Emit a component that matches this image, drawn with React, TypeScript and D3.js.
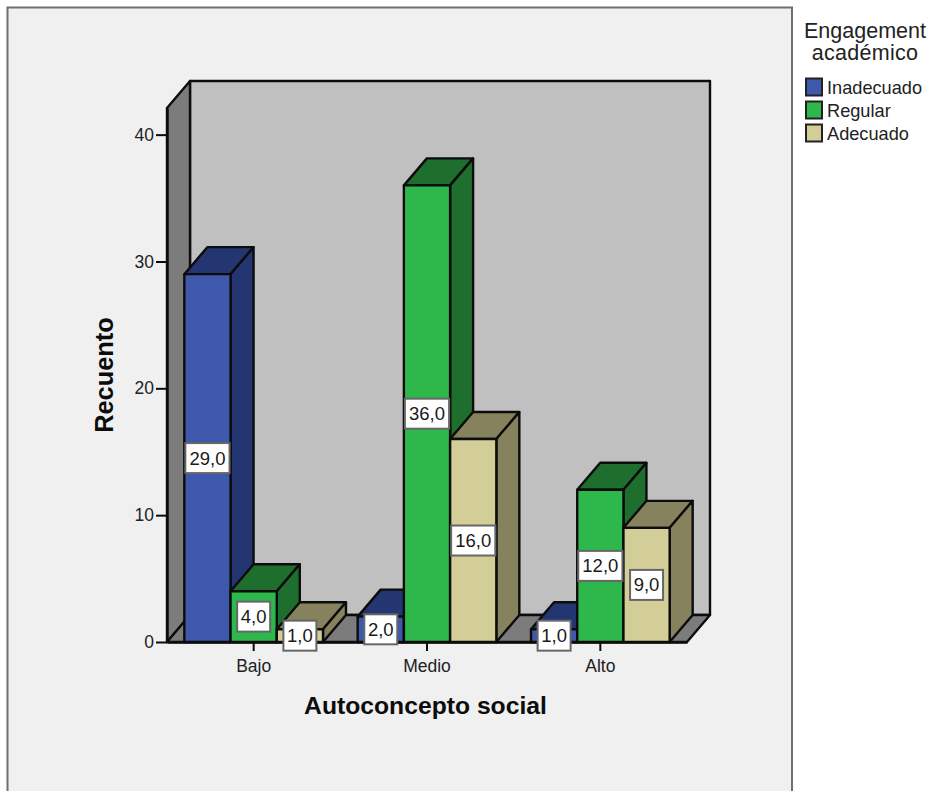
import { useRef, useEffect } from "react"
import * as d3 from "d3"

const categories = ["Bajo", "Medio", "Alto"]
const seriesNames = ["Inadecuado", "Regular", "Adecuado"]
const inadecuado = [29, 2, 1]
const regular = [4, 36, 12]
const adecuado = [1, 16, 9]
const yTicks = [0, 10, 20, 30, 40]
const yMax = 42.1

const frontColors = ["#3e58ac", "#2eb84c", "#d3ce97"]
const sideColors = ["#233672", "#1e6e2e", "#86825e"]

const FONT = "'Liberation Sans', Arial, sans-serif"
const INK = "#0c0c0c"

// plot box (front face) and the 3D offset of the walls and bars
const left = 167
const right = 687
const bottom = 642
const top = 108
const dx = 23
const dy = 27

export default function App() {
  const svgRef = useRef<SVGSVGElement>(null)

  useEffect(() => {
    if (!svgRef.current) return
    const svg = d3.select(svgRef.current)
    svg.selectAll("*").remove()

    const allSeries = [inadecuado, regular, adecuado]

    const x = d3.scaleBand<string>().domain(categories).range([left, right]).paddingInner(0.2).paddingOuter(0.1)
    const xInner = d3.scaleBand<string>().domain(seriesNames).range([0, x.bandwidth()])
    const y = d3.scaleLinear().domain([0, yMax]).range([bottom, top])

    const poly = (pts: [number, number][]) => d3.line()(pts) + "Z"

    // chart frame
    svg
      .append("rect")
      .attr("x", 7.5)
      .attr("y", 7.5)
      .attr("width", 784.5)
      .attr("height", 790)
      .attr("fill", "#f0f0f0")
      .attr("stroke", "#6f6f6f")
      .attr("stroke-width", 2)

    // walls and floor
    const walls = svg.append("g").attr("stroke", INK).attr("stroke-width", 2.4).attr("stroke-linejoin", "round")
    walls
      .append("path")
      .attr("fill", "#c0c0c0")
      .attr("d", poly([[left + dx, top - dy], [right + dx, top - dy], [right + dx, bottom - dy], [left + dx, bottom - dy]]))
    walls
      .append("path")
      .attr("fill", "#7c7c7c")
      .attr("d", poly([[left, top], [left + dx, top - dy], [left + dx, bottom - dy], [left, bottom]]))
    walls
      .append("path")
      .attr("fill", "#7c7c7c")
      .attr("d", poly([[left, bottom], [left + dx, bottom - dy], [right + dx, bottom - dy], [right, bottom]]))

    // bars, left to right so that later ones sit over earlier sides
    const bars = svg.append("g").attr("stroke", INK).attr("stroke-width", 2.4).attr("stroke-linejoin", "round")
    categories.forEach((cat, c) => {
      seriesNames.forEach((name, s) => {
        const v = allSeries[s][c]
        const x0 = x(cat)! + xInner(name)!
        const x1 = x0 + xInner.bandwidth()
        const yv = y(v)
        bars
          .append("path")
          .attr("fill", sideColors[s])
          .attr("d", poly([[x0, yv], [x1, yv], [x1 + dx, yv - dy], [x0 + dx, yv - dy]]))
        bars
          .append("path")
          .attr("fill", sideColors[s])
          .attr("d", poly([[x1, yv], [x1 + dx, yv - dy], [x1 + dx, bottom - dy], [x1, bottom]]))
        bars
          .append("path")
          .attr("fill", frontColors[s])
          .attr("d", poly([[x0, yv], [x1, yv], [x1, bottom], [x0, bottom]]))
      })
    })

    // axes
    const yAxis = svg
      .append("g")
      .attr("transform", `translate(${left},0)`)
      .call(d3.axisLeft(y).tickValues(yTicks).tickSizeInner(11).tickSizeOuter(0).tickPadding(2).tickFormat(d3.format("d")))
    const xAxis = svg
      .append("g")
      .attr("transform", `translate(0,${bottom})`)
      .call(d3.axisBottom(x).tickSizeInner(9).tickSizeOuter(0).tickPadding(9))
    for (const axis of [yAxis, xAxis]) {
      axis.selectAll("text").attr("font-family", FONT).attr("font-size", 17.5).attr("fill", "#222")
      axis.selectAll("line").attr("stroke", INK).attr("stroke-width", 2)
      axis.select(".domain").attr("stroke", INK).attr("stroke-width", 2.4)
    }

    // value labels
    const labels = svg.append("g")
    categories.forEach((cat, c) => {
      seriesNames.forEach((name, s) => {
        const v = allSeries[s][c]
        const cx = x(cat)! + xInner(name)! + xInner.bandwidth() / 2
        const cy = (y(v) + bottom) / 2
        const w = v >= 10 ? xInner.bandwidth() - 2 : 33
        labels
          .append("rect")
          .attr("x", cx - w / 2)
          .attr("y", cy - 15)
          .attr("width", w)
          .attr("height", 30)
          .attr("fill", "#fff")
          .attr("stroke", "#666")
          .attr("stroke-width", 2)
        labels
          .append("text")
          .attr("x", cx)
          .attr("y", cy + 6.5)
          .attr("text-anchor", "middle")
          .attr("font-family", FONT)
          .attr("font-size", 18.5)
          .attr("fill", "#1a1a1a")
          .text(d3.format(".1f")(v).replace(".", ","))
      })
    })

    // axis titles
    svg
      .append("text")
      .attr("x", 425.5)
      .attr("y", 714)
      .attr("text-anchor", "middle")
      .attr("font-family", FONT)
      .attr("font-weight", "bold")
      .attr("font-size", 24.7)
      .attr("fill", INK)
      .text("Autoconcepto social")
    svg
      .append("text")
      .attr("transform", "translate(113,375) rotate(-90)")
      .attr("text-anchor", "middle")
      .attr("font-family", FONT)
      .attr("font-weight", "bold")
      .attr("font-size", 25.4)
      .attr("fill", INK)
      .text("Recuento")

    // legend
    const legendTitle = ["Engagement", "académico"]
    legendTitle.forEach((t, i) => {
      svg
        .append("text")
        .attr("x", 865)
        .attr("y", 38 + i * 22)
        .attr("text-anchor", "middle")
        .attr("font-family", FONT)
        .attr("font-size", 21.5)
        .attr("letter-spacing", i === 1 ? 0.3 : 0)
        .attr("fill", "#222")
        .text(t)
    })
    const legendY = d3.scaleBand<string>().domain(seriesNames).range([75.5, 144.5])
    seriesNames.forEach((name, s) => {
      const ly = legendY(name)!
      svg
        .append("rect")
        .attr("x", 806)
        .attr("y", ly + 3)
        .attr("width", 16)
        .attr("height", 17)
        .attr("fill", frontColors[s])
        .attr("stroke", "#222")
        .attr("stroke-width", 2)
      svg
        .append("text")
        .attr("x", 827)
        .attr("y", ly + 18)
        .attr("font-family", FONT)
        .attr("font-size", 18.2)
        .attr("fill", "#222")
        .text(name)
    })
  }, [])

  return <svg ref={svgRef} width={929} height={791} style={{ position: "absolute", left: 0, top: 0, background: "#fff" }} />
}
